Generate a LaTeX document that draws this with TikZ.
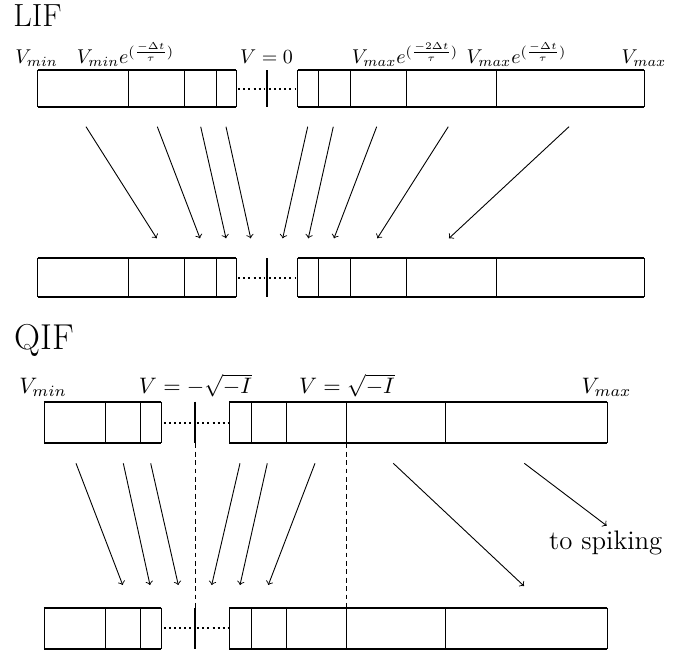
\documentclass[tikz,border=0pt]{standalone}
\usepackage{fix-cm}
\begin{document}
\begin{tikzpicture}[x=0.5pt,y=-0.5pt,
  edge/.style={line width=0.9pt},
  wall/.style={line width=0.45pt},
  tick/.style={line width=0.6pt},
  gap/.style={line width=1pt, dash pattern=on 1pt off 1.5pt},
  guide/.style={line width=0.45pt, dash pattern=on 2.4pt off 1.8pt},
  flow/.style={line width=0.45pt, ->},
  title/.style={inner sep=0pt, anchor=base west, font=\fontsize{16}{19}\selectfont},
  qtitle/.style={inner sep=0pt, anchor=base west, font=\fontsize{18}{21}\selectfont},
  lbl/.style={inner sep=0pt, anchor=base},
  qlbl/.style={inner sep=0pt, anchor=base, font=\fontsize{11.2}{13.5}\selectfont},
  note/.style={inner sep=0pt, anchor=base, font=\fontsize{13.4}{16}\selectfont},
]
\useasboundingbox (0,0) rectangle (693,655);

% ---------------- LIF ----------------
\node[title] (lif) at (13,26) {LIF};

\node[lbl] (l1) at (36.5,63.5)  {$V_{min}$};
\node[lbl] (l2) at (125.5,63.5) {$V_{min}e^{(\frac{-\Delta t}{\tau})}$};
\node[lbl] (l3) at (266.5,63.5) {$V=0$};
\node[lbl] (l4) at (405,63.5)   {$V_{max}e^{(\frac{-2\Delta t}{\tau})}$};
\node[lbl] (l5) at (516.5,63.5) {$V_{max}e^{(\frac{-\Delta t}{\tau})}$};
\node[lbl] (l6) at (644,63.5)   {$V_{max}$};

% two binned voltage axes
\foreach \yt/\yb in {70/107.3, 258.3/296.7} {
  \draw[edge] (37.7,\yt) -- (236,\yt) (37.7,\yb) -- (236,\yb);
  \draw[edge] (297.7,\yt) -- (644.3,\yt) (297.7,\yb) -- (644.3,\yb);
  \foreach \x in {37.7,128.3,184.3,216.3,236,297.7,318.3,350,406,496.3,644.3}
    \draw[wall] (\x,\yt) -- (\x,\yb);
  \draw[tick] (267,\yt) -- (267,\yb);
  \draw[gap] (238.5,{(\yt+\yb)/2}) -- (265,{(\yt+\yb)/2});
  \draw[gap] (269.5,{(\yt+\yb)/2}) -- (296,{(\yt+\yb)/2});
}

% bin mapping after one time step
\foreach \i/\a/\b in {1/86/156.7, 2/157.3/200, 3/200.7/226, 4/226/250.7,
                      5/307.7/282.7, 6/333.3/308.3, 7/376.7/334,
                      8/448.3/377.3, 9/569/449} {
  \coordinate (ls\i) at (\a,126.7);
  \coordinate (le\i) at (\b,238.3);
  \draw[flow] (ls\i) -- (le\i);
}

% ---------------- QIF ----------------
\node[qtitle] (qif) at (14,349.3) {QIF};

\node[qlbl] (q1) at (43,393.5)    {$V_{min}$};
\node[qlbl] (q2) at (195.5,393.5) {$V=-\sqrt{-I}$};
\node[qlbl] (q3) at (347,393.5)   {$V=\sqrt{-I}$};
\node[qlbl] (q4) at (606.5,393.5) {$V_{max}$};

\foreach \yt/\yb in {401.7/443.3, 607.7/649} {
  \draw[edge] (44,\yt) -- (161.5,\yt) (44,\yb) -- (161.5,\yb);
  \draw[edge] (229.3,\yt) -- (607,\yt) (229.3,\yb) -- (607,\yb);
  \foreach \x in {44,105,140,161.5,229.3,251,286.3,346.7,445.5,607}
    \draw[wall] (\x,\yt) -- (\x,\yb);
  \draw[tick] (195,\yt) -- (195,\yb);
  \draw[gap] (164,{(\yt+\yb)/2}) -- (193,{(\yt+\yb)/2});
  \draw[gap] (197.5,{(\yt+\yb)/2}) -- (228,{(\yt+\yb)/2});
}

% fixed points
\draw[guide] (195,443.3) -- (195,607.7);
\draw[guide] (346.7,443.3) -- (346.7,607.7);

\foreach \i/\a/\b in {1/76/122.7, 2/123.3/150, 3/150.7/178.3,
                      4/240/211.7, 5/267.3/240, 6/315/268.3} {
  \coordinate (qs\i) at (\a,463.3);
  \coordinate (qe\i) at (\b,585);
  \draw[flow] (qs\i) -- (qe\i);
}
\coordinate (qs7) at (393.3,463.3);
\coordinate (qe7) at (524,586);
\draw[flow] (qs7) -- (qe7);

\coordinate (qs8) at (524.3,463.3);
\coordinate (qe8) at (606.7,525.7);
\draw[flow] (qs8) -- (qe8);
\node[note] (spk) at (605.8,549.5) {to spiking};
\end{tikzpicture}
\end{document}
